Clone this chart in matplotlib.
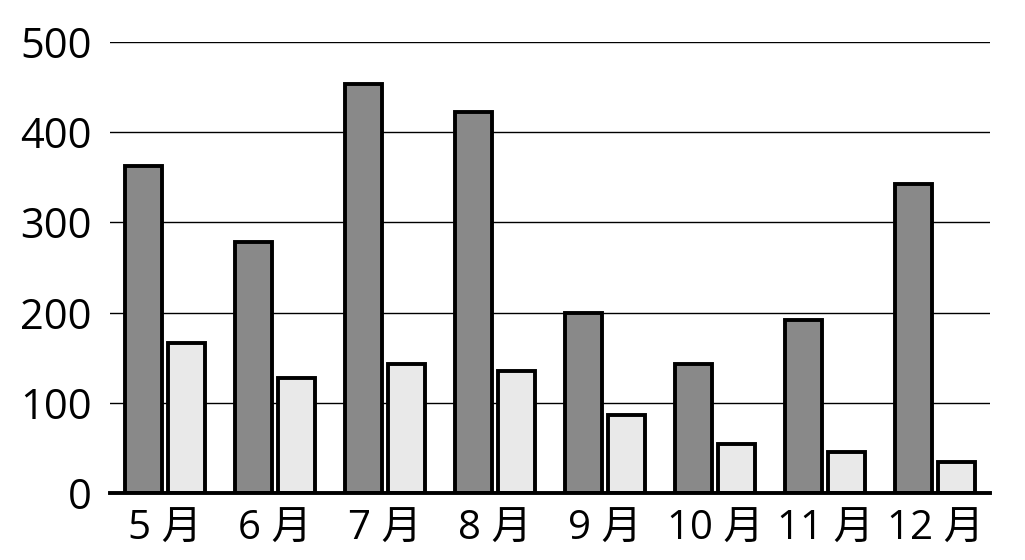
import matplotlib
matplotlib.use("Agg")
import matplotlib.pyplot as plt
import numpy as np

plt.rcParams['font.family'] = ['Open Sans', 'Noto Sans CJK JP', 'DejaVu Sans']

months = ["5 月", "6 月", "7 月", "8 月", "9 月", "10 月", "11 月", "12 月"]
series_a = [363, 278, 453, 422, 200, 143, 192, 343]
series_b = [166, 128, 143, 135, 86, 54, 45, 34]
yticks = [0, 100, 200, 300, 400, 500]

fig = plt.figure(figsize=(10.25, 5.6), dpi=100)
ax = fig.add_axes([110/1025, 1-493/560, 880/1025, (493-42)/560])

x = np.arange(len(months))
w = 0.33
ax.bar(x - 0.195, series_a, width=w, color="#898989", edgecolor="black", linewidth=2.8, zorder=3)
ax.bar(x + 0.195, series_b, width=w, color="#e9e9e9", edgecolor="black", linewidth=2.8, zorder=3)

ax.set_xlim(-0.5, len(months) - 0.5)
ax.set_ylim(0, 500)
ax.set_yticks(yticks)
ax.set_yticklabels([str(v) for v in yticks], fontsize=30)
ax.set_xticks(x)
ax.set_xticklabels(months, fontsize=29)
ax.tick_params(axis='y', length=0, pad=13)
ax.tick_params(axis='x', length=0, pad=12)
ax.yaxis.grid(True, color="black", linewidth=1.0, zorder=0)
ax.set_axisbelow(True)
for s in ["left", "right", "top"]:
    ax.spines[s].set_visible(False)
ax.spines["bottom"].set_linewidth(2.8)
ax.spines["bottom"].set_zorder(4)

fig.savefig("out.png", dpi=100)
